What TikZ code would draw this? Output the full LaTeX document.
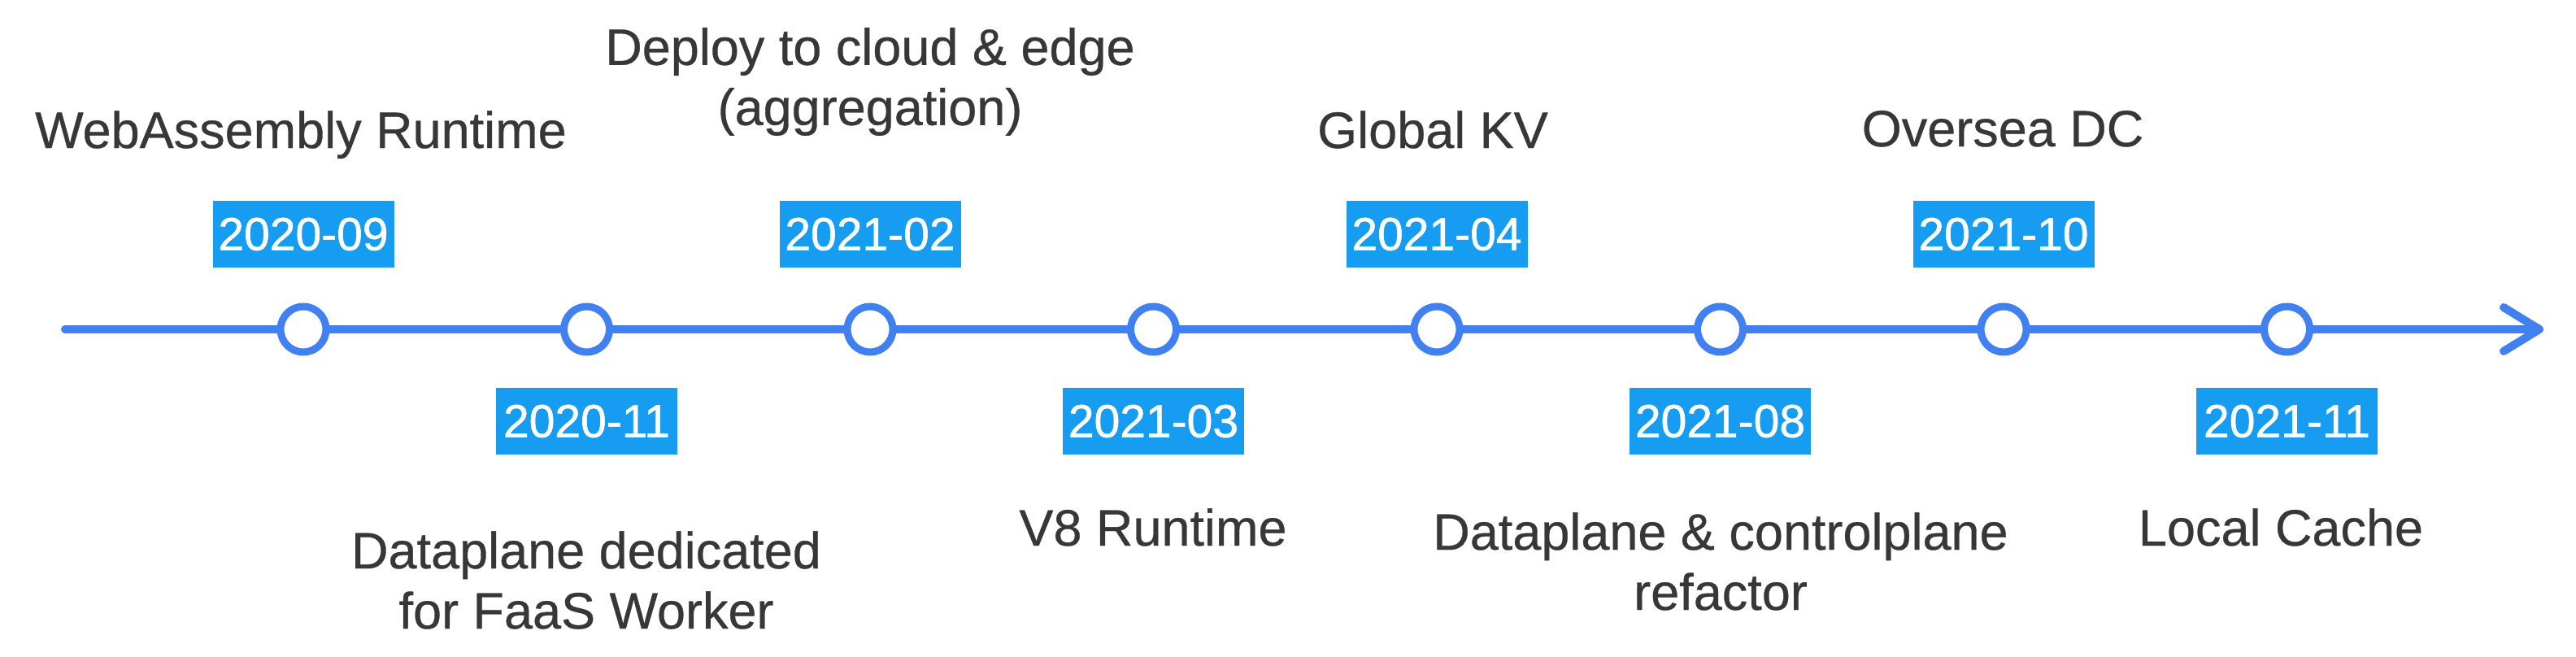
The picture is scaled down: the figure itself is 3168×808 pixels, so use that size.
\documentclass[tikz,border=0pt]{standalone}
\usepackage{fontspec}
\setmainfont{Liberation Sans}
\newfontfamily\eventfont[FakeBold=0.5]{Liberation Sans}
\newfontfamily\datefont[FakeBold=1.0]{Liberation Sans}
\usetikzlibrary{arrows.meta}
\definecolor{axisblue}{RGB}{64,128,240}
\definecolor{datebox}{RGB}{22,156,240}
\definecolor{labelgray}{RGB}{55,55,55}
\begin{document}
\begin{tikzpicture}[x=0.5pt,y=-0.5pt,
  milestone/.style={circle, draw=axisblue, line width=4.5pt, fill=white, minimum size=28pt, inner sep=0pt},
  datetag/.style={fill=datebox, text=white, minimum width=111.5pt, minimum height=41pt, inner sep=0pt, font=\datefont\fontsize{28.5}{32}\selectfont},
  event/.style={text=labelgray, inner sep=0pt, align=center, font=\eventfont\fontsize{31.5}{37}\selectfont},
  axis/.style={draw=axisblue, line width=5pt, line cap=round, -{Straight Barb[length=22pt,width=27pt,round]}},
]
\useasboundingbox[fill=white] (0,0) rectangle (3168,808);
% axis
\coordinate (start) at (80,405);
\coordinate (end) at (3128,405);
\draw[axis] (start) -- (end);
% milestones
\node[milestone] (m1) at (373,405) {};
\node[milestone] (m2) at (721.5,405) {};
\node[milestone] (m3) at (1070,405) {};
\node[milestone] (m4) at (1418.5,405) {};
\node[milestone] (m5) at (1767,405) {};
\node[milestone] (m6) at (2115.5,405) {};
\node[milestone] (m7) at (2464,405) {};
\node[milestone] (m8) at (2812.5,405) {};
% dates
\node[datetag] (d1) at (373,288) {2020-09};
\node[datetag] (d2) at (721.5,518) {2020-11};
\node[datetag] (d3) at (1070,288) {2021-02};
\node[datetag] (d4) at (1418.5,518) {2021-03};
\node[datetag] (d5) at (1767,288) {2021-04};
\node[datetag] (d6) at (2115.5,518) {2021-08};
\node[datetag] (d7) at (2464,288) {2021-10};
\node[datetag] (d8) at (2812.5,518) {2021-11};
% events
\node[event, anchor=base] (e1) at (370,182) {WebAssembly Runtime};
\node[event] (e2) at (721,713.5) {Dataplane dedicated\\for FaaS Worker};
\node[event] (e3) at (1070,100.5) {Deploy to cloud \& edge\\(aggregation)};
\node[event, anchor=base] (e4) at (1418,671) {V8 Runtime};
\node[event, anchor=base] (e5) at (1762,182) {Global KV};
\node[event] (e6) at (2116,690.5) {Dataplane \& controlplane\\refactor};
\node[event, anchor=base] (e7) at (2463,180) {Oversea DC};
\node[event, anchor=base] (e8) at (2805,671) {Local Cache};
\end{tikzpicture}
\end{document}
